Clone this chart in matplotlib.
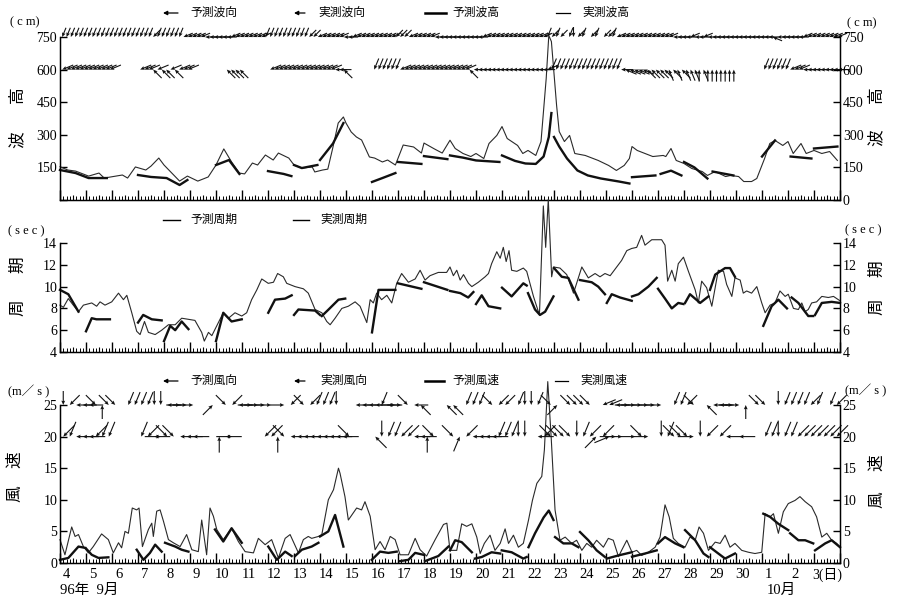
import numpy as np
import matplotlib
matplotlib.use('Agg')
import matplotlib.pyplot as plt
from matplotlib.ticker import MultipleLocator

plt.rcParams['font.family'] = ['Liberation Serif', 'Noto Sans CJK JP']

# time axis: days since 1996-09-04 00h
day_labels = [str(d) for d in range(4, 31)] + ['1', '2', '3(日)']

# ---- wave height (cm) ----
wave_obs = [(0.0,153),(0.3,138),(0.6,133),(1.1,110),(1.5,124),(1.7,101),(2.4,115),(2.6,101),(2.9,152),
            (3.3,138),(3.5,156),(3.8,193),(4.0,161),(4.6,87),(4.9,110),(5.3,87),(5.7,106),(6.0,161),
            (6.3,235),(6.6,175),(6.9,124),(7.1,120),(7.4,170),(7.6,161),(7.9,207),(8.2,184),(8.4,216),
            (8.8,193),(9.0,161),(9.3,147),(9.7,152),(9.8,129),(10.1,138),(10.3,142),(10.5,244),(10.7,354),
            (10.9,382),(11.0,354),(11.2,313),(11.4,290),(11.6,276),(11.9,198),(12.1,193),(12.4,175),
            (12.6,184),(12.9,161),(13.2,253),(13.6,244),(13.9,216),(14.0,262),(14.4,235),(14.7,216),
            (15.0,275),(15.2,237),(15.5,214),(15.8,200),(16.0,214),(16.3,191),(16.5,260),(16.8,297),
            (17.0,338),(17.2,283),(17.6,251),(17.8,214),(18.0,228),(18.3,205),(18.5,269),(18.7,559),
            (18.8,757),(18.9,729),(19.1,435),(19.2,315),(19.4,269),(19.6,297),(19.8,214),(20.2,205),
            (20.7,182),(21.1,159),(21.4,136),(21.7,159),(21.9,191),(22.0,246),(22.2,228),(22.5,214),
            (22.8,200),(23.2,205),(23.3,200),(23.5,237),(23.7,182),(24.0,168),(24.3,145),(24.7,131),
            (24.9,113),(25.2,131),(25.6,108),(25.8,113),(26.1,108),(26.3,85),(26.6,85),(26.8,99),
            (27.1,191),(27.3,260),(27.5,274),(27.8,251),(28.0,269),(28.2,214),(28.5,260),(28.7,214),
            (29.0,228),(29.3,214),(29.6,223),(29.9,182)]
wave_pred = [
    [(0.0,138),(0.6,124),(1.1,101),(1.8,101)],
    [(3.0,115),(3.5,106),(4.1,101),(4.6,69),(4.9,92)],
    [(6.0,161),(6.5,184),(6.9,120)],
    [(8.0,133),(8.6,120),(8.9,110)],
    [(9.0,161),(9.3,147),(9.9,161)],
    [(10.0,184),(10.5,260),(10.9,354)],
    [(12.0,83),(12.4,101),(12.9,124)],
    [(13.0,175),(13.9,166)],
    [(14.0,202),(14.9,188)],
    [(15.0,205),(15.5,195),(16.0,182),(16.9,175)],
    [(17.0,205),(17.5,180),(17.9,168),(18.3,166),(18.6,200),(18.8,290),(18.9,400)],
    [(19.0,290),(19.2,246),(19.5,191),(19.9,136),(20.3,113),(20.8,99),(21.5,85),(21.9,76)],
    [(22.0,105),(22.9,113)],
    [(23.1,120),(23.5,135),(23.9,113)],
    [(24.0,175),(24.4,150),(24.9,99)],
    [(25.1,131),(25.9,113)],
    [(27.0,200),(27.5,274)],
    [(28.1,200),(28.9,191)],
    [(29.0,237),(29.9,246)],
]

# ---- wave period (sec) ----
per_obs = [(0.0,8.3),(0.13,8.1),(0.32,8.9),(0.51,8.3),(0.71,7.7),(0.9,8.3),(1.22,8.5),(1.41,8.2),(1.54,8.6),
           (1.73,8.3),(1.99,8.6),(2.25,9.4),(2.44,8.8),(2.57,9.2),(2.76,7.6),(2.95,5.9),(3.08,5.6),(3.25,6.8),
           (3.4,5.8),(3.66,5.6),(3.91,6.0),(4.17,6.5),(4.43,6.5),(4.68,7.1),(4.94,7.0),(5.19,6.9),(5.45,5.8),
           (5.55,5.0),(5.71,5.8),(5.84,5.5),(6.09,6.7),(6.28,7.6),(6.48,7.1),(6.73,7.6),(6.99,7.3),(7.18,7.6),
           (7.37,8.8),(7.57,9.7),(7.76,10.7),(8.01,10.3),(8.21,10.4),(8.37,11.2),(8.59,10.9),(8.72,10.3),
           (9.04,10.0),(9.36,9.8),(9.55,9.4),(9.81,7.9),(10.07,7.6),(10.26,6.8),(10.39,6.5),(10.58,7.1),
           (10.84,8.0),(11.09,8.2),(11.35,8.6),(11.54,8.2),(11.8,6.7),(11.93,8.8),(12.05,8.5),(12.18,9.4),
           (12.37,8.8),(12.57,9.2),(12.76,8.5),(12.95,10.3),(13.14,11.2),(13.4,10.4),(13.66,10.7),(13.85,11.5),
           (14.04,10.6),(14.23,11.0),(14.55,11.3),(14.87,11.3),(15.0,11.8),(15.13,11.0),(15.26,11.5),
           (15.39,10.6),(15.52,11.1),(15.71,10.3),(15.84,10.0),(16.09,10.4),(16.35,10.9),(16.48,11.2),
           (16.6,12.1),(16.8,13.2),(16.93,12.6),(17.05,13.6),(17.16,12.3),(17.27,13.3),(17.37,11.5),
           (17.57,11.4),(17.82,11.7),(17.95,11.4),(18.21,9.1),(18.44,7.4),(18.59,17.4),(18.68,13.6),
           (18.78,18.0),(18.91,10.9),(18.98,11.8),(19.23,11.7),(19.49,11.1),(19.75,9.4),(20.07,11.8),
           (20.32,10.8),(20.58,11.2),(20.77,10.9),(20.96,11.2),(21.16,11.0),(21.41,11.8),(21.6,12.4),
           (21.8,13.3),(21.99,13.5),(22.18,13.6),(22.37,14.7),(22.5,13.8),(22.76,14.3),(23.14,14.3),
           (23.27,13.8),(23.37,10.5),(23.53,11.5),(23.66,10.5),(23.78,12.1),(23.98,12.7),(24.17,11.4),
           (24.43,9.7),(24.55,8.5),(24.68,10.5),(24.87,9.9),(25.07,8.2),(25.32,11.5),(25.52,11.4),
           (25.64,10.2),(25.84,9.1),(25.96,10.8),(26.16,10.6),(26.28,9.4),(26.41,9.6),(26.6,9.4),
           (26.8,10.0),(26.99,8.5),(27.12,7.6),(27.31,8.3),(27.5,8.5),(27.69,9.6),(27.89,9.1),(28.01,9.3),
           (28.21,8.0),(28.4,7.9),(28.53,8.5),(28.66,7.7),(28.78,7.9),(28.91,8.5),(29.1,8.6),(29.3,9.1),
           (29.55,9.0),(29.75,9.1),(30.0,8.7)]
per_pred = [
    [(0.0,9.7),(0.32,9.3),(0.71,7.7)],
    [(1.0,5.9),(1.22,7.1),(1.4,7.0),(1.92,7.0)],
    [(3.0,6.7),(3.2,7.4),(3.53,7.0),(3.91,6.9)],
    [(4.0,5.0),(4.24,6.4),(4.43,6.0),(4.68,6.8),(4.94,6.1)],
    [(6.0,5.0),(6.28,7.6),(6.6,6.8),(6.99,7.0)],
    [(8.01,7.6),(8.27,8.8),(8.66,8.9),(8.91,9.2)],
    [(9.0,7.4),(9.17,7.9),(9.81,7.8),(10.0,7.4)],
    [(10.07,7.3),(10.33,7.9),(10.71,8.8),(10.97,8.9)],
    [(12.0,5.8),(12.25,9.7),(12.9,9.7)],
    [(13.0,10.3),(13.9,9.8)],
    [(14.0,10.4),(14.9,9.7)],
    [(15.0,9.6),(15.4,9.4),(15.7,9.0),(15.9,9.5)],
    [(16.0,8.4),(16.22,9.2),(16.48,8.2),(16.93,8.0)],
    [(17.0,9.9),(17.37,9.1),(17.82,10.3),(17.95,10.1)],
    [(18.0,9.4),(18.27,7.9),(18.46,7.4),(18.66,7.7),(18.98,9.1)],
    [(19.0,11.7),(19.3,10.9),(19.55,10.8),(19.94,8.8)],
    [(20.0,10.6),(20.45,10.4),(20.7,10.0),(20.96,9.3)],
    [(21.03,8.5),(21.22,9.3),(21.54,9.0),(21.99,8.7)],
    [(22.0,9.1),(22.25,9.3),(22.63,10.0),(22.95,10.8)],
    [(23.0,9.8),(23.27,8.9),(23.53,8.0),(23.78,8.5),(23.98,8.4)],
    [(24.04,8.5),(24.23,9.3),(24.62,8.5),(24.94,9.1)],
    [(25.0,9.7),(25.2,11.1),(25.58,11.7),(25.77,11.7),(25.96,10.9)],
    [(27.05,6.4),(27.37,8.2),(27.63,8.8),(27.96,8.0)],
    [(28.14,9.0),(28.4,8.5),(28.78,7.3),(28.97,7.3)],
    [(29.04,7.4),(29.3,8.5),(29.68,8.6),(30.0,8.5)],
]

# ---- wind speed (m/s) ----
wind_obs = [(0.0,3.7),(0.19,1.3),(0.45,5.7),(0.58,4.2),(0.71,4.5),(0.9,2.6),(1.09,1.6),(1.28,2.6),(1.6,4.6),
            (1.86,3.7),(2.05,1.6),(2.25,3.2),(2.37,2.4),(2.5,5.0),(2.63,4.7),(2.78,8.7),(2.95,8.4),(3.04,8.7),
            (3.17,2.6),(3.4,5.3),(3.53,6.3),(3.59,4.2),(3.72,8.2),(3.85,8.4),(3.98,6.6),(4.17,3.7),(4.36,3.2),
            (4.62,2.6),(4.87,4.5),(5.07,2.1),(5.32,1.8),(5.45,6.8),(5.64,1.3),(5.77,8.7),(5.9,7.4),(6.03,5.3),
            (6.28,3.7),(6.6,5.5),(6.86,3.4),(7.12,1.8),(7.44,1.6),(7.63,3.9),(7.89,2.9),(8.14,3.7),(8.4,0.8),
            (8.66,3.9),(8.85,4.5),(9.17,1.6),(9.36,3.7),(9.55,4.2),(9.68,3.9),(9.94,4.2),(10.07,4.5),
            (10.32,10.0),(10.52,11.6),(10.71,15.0),(10.77,14.2),(10.96,10.5),(11.09,6.8),(11.41,8.7),
            (11.6,8.4),(11.73,9.7),(11.93,7.4),(12.12,2.1),(12.31,3.4),(12.5,2.1),(12.7,4.2),(12.89,3.7),
            (13.08,1.3),(13.4,1.3),(13.66,3.9),(13.85,2.1),(14.1,1.1),(14.43,3.7),(14.75,6.1),(14.88,6.3),
            (15.0,2.0),(15.26,2.0),(15.45,6.2),(15.64,5.8),(15.84,6.2),(16.03,4.1),(16.16,1.5),(16.32,3.1),
            (16.54,4.4),(16.73,2.0),(16.93,3.1),(17.12,5.4),(17.25,3.1),(17.44,4.4),(17.63,2.5),(17.82,3.1),
            (18.02,6.8),(18.17,9.9),(18.34,12.6),(18.53,13.7),(18.63,17.9),(18.76,28.7),(18.89,20.0),
            (19.04,8.4),(19.23,3.6),(19.43,4.1),(19.68,3.1),(19.87,3.6),(20.07,2.0),(20.26,3.1),(20.45,2.5),
            (20.64,3.6),(20.9,2.5),(21.09,3.9),(21.28,3.6),(21.48,1.0),(21.6,2.0),(21.8,3.6),(22.0,1.7),
            (22.18,2.0),(22.37,1.2),(22.63,1.7),(22.89,2.5),(23.08,4.1),(23.27,9.2),(23.43,7.3),(23.59,3.9),
            (23.78,3.1),(24.04,2.5),(24.23,4.1),(24.43,3.6),(24.58,5.7),(24.75,4.7),(24.94,2.0),(25.2,3.3),
            (25.39,3.1),(25.58,4.4),(25.77,2.5),(25.96,3.1),(26.22,2.0),(26.48,1.7),(26.73,1.5),(26.99,1.7),
            (27.12,7.8),(27.31,7.3),(27.44,7.8),(27.63,4.7),(27.82,8.1),(28.01,9.4),(28.27,9.9),(28.46,10.5),
            (28.66,9.7),(28.91,8.9),(29.1,7.3),(29.3,4.1),(29.49,4.7),(29.68,3.6),(29.87,3.1),(30.0,2.5)]
wind_pred = [
    [(0.0,0.5),(0.32,0.8),(0.71,2.6),(0.96,2.4)],
    [(1.0,2.3),(1.22,1.3),(1.48,0.8),(1.86,0.9)],
    [(2.95,2.1),(3.21,0.5),(3.46,1.6),(3.66,2.9),(3.91,1.8)],
    [(4.04,3.2),(4.43,2.6),(4.68,2.1),(4.94,1.8)],
    [(5.96,5.3),(6.28,3.4),(6.6,5.5),(6.99,3.2)],
    [(8.01,2.6),(8.34,0.5),(8.66,1.8),(8.91,1.1)],
    [(9.04,1.1),(9.3,2.1),(9.68,2.6),(9.94,3.2)],
    [(10.0,4.2),(10.32,5.0),(10.58,7.6),(10.9,2.6)],
    [(11.99,0.5),(12.31,1.8),(12.63,1.6),(12.95,1.8)],
    [(13.08,0.3),(13.4,0.5),(13.66,1.6),(13.98,1.3)],
    [(14.04,0.3),(14.55,1.1),(14.94,2.6)],
    [(15.0,2.0),(15.2,3.6),(15.45,3.3),(15.84,1.7)],
    [(15.96,0.7),(16.22,0.95),(16.6,1.7),(16.93,1.5)],
    [(16.99,2.0),(17.37,1.7),(17.82,0.7),(17.95,0.95)],
    [(18.02,2.5),(18.27,4.7),(18.6,7.2),(18.8,8.3),(18.98,6.8)],
    [(19.04,4.1),(19.36,3.1),(19.68,3.1),(19.94,2.5)],
    [(20.0,4.9),(20.32,3.6),(20.64,2.0),(20.96,0.95)],
    [(21.03,0.7),(21.48,1.2),(21.99,1.7)],
    [(22.0,1.0),(22.5,1.5),(22.95,2.0)],
    [(23.0,3.1),(23.27,4.1),(23.66,3.1),(23.98,2.5)],
    [(24.04,5.2),(24.43,3.6),(24.75,1.5),(24.94,0.95)],
    [(25.0,2.5),(25.32,1.5),(25.58,0.7),(25.96,1.5)],
    [(27.05,7.8),(27.31,7.3),(27.63,6.2),(28.01,5.2)],
    [(28.08,4.7),(28.4,3.6),(28.66,3.6),(28.97,3.1)],
    [(29.04,2.0),(29.43,3.1),(29.68,3.6),(30.0,2.5)],
]

# ---- directions (where it comes from), one string per day, '-' = none ----
wave_dir_obs = [
    "NNE NNE NNE NNE NNE NNE", "NNE NNE NNE NNE NNE NNE", "NNE NNE NNE NNE NNE NNE",
    "NNE NNE NNE NE NNE NNE", "NNE NNE NNE NNE ENE ENE", "ENE ENE ENE E E E",
    "E E E ENE ENE ENE", "ENE ENE ENE ENE ENE NNE", "NNE NNE NNE NNE NNE NNE",
    "NNE NNE NNE NE NE ENE", "ENE ENE ENE ENE ENE E", "E ENE ENE ENE ENE ENE",
    "ENE ENE ENE ENE ENE NE", "NE NE ENE ENE ENE ENE", "ENE ENE E E E E",
    "E E E E E E", "E ENE ENE ENE ENE ENE", "ENE ENE ENE ENE ENE ENE",
    "ENE ENE ENE ENE NNE NE", "NNE NE - NNE N NE", "NNE - NE NNE - NE",
    "NE NNE ENE ENE ENE ENE", "ENE ENE ENE ENE ENE ENE", "ENE ENE ENE E E E",
    "E ENE E E ENE E", "E E E E E E", "E E E E E E",
    "E E ESE E E E", "E E E ENE ENE ENE", "ENE ENE ENE ENE ENE ENE",
]
wave_dir_pred = [
    "ENE ENE ENE ENE ENE ENE", "ENE ENE ENE ENE ENE ENE", "- - - - - -",
    "ENE ENE ENE SE ENE SE", "SE ENE SE ENE ENE ENE", "- - - - - -",
    "- - SE SE SE SE", "- - - - - -", "ENE ENE ENE ENE ENE ENE",
    "ENE ENE ENE ENE ENE ENE", "ENE ENE ENE E E SE", "- - - - - -",
    "NNE NNE NNE NNE NNE NNE", "ENE ENE ENE ENE ENE ENE", "ENE ENE ENE ENE ENE ENE",
    "ENE ENE ENE ENE SE E", "E E E E E E", "E E E E E E",
    "E E E E ENE NNE", "NNE NNE NNE NNE NNE NNE", "NNE NNE NNE NNE NNE NNE",
    "NNE NNE NNE E ESE ESE", "ESE ESE ESE SE SE SE", "SE SE SSE SE SSE SE",
    "SSE SSE SSE S SSE S", "S S S S S S", "- - - - - -",
    "NNE NNE NNE NNE NNE NNE", "ENE ENE ENE E E E", "E E E E E E",
]
wind_dir_obs = [
    "N NE E E", "E NW S NW", "NW - NNE NNE", "NNE NNE N N", "E - W W",
    "W - - SW", "- NW NE E", "- W W W", "W - W NE", "- NW NE NNE",
    "NNE NNE N -", "- E E E", "E NNE E W", "W NW E SE", "- - - SE",
    "SE - NNE NNE", "NNE - NW NE", "NE - NNE N", "N NNE - NW", "SW - NW NW",
    "NW NW - ENE", "ENE E - W", "W W W W", "W - NNE NNE", "NE NW - SE",
    "E E - W", "W S - NW", "NW - N NNE", "NNE NNE NNE NE", "NNE - NNE NE",
]
wind_dir_pred = [
    "NE NNE E E", "E NE NNE NNE", "- - - -", "NNE NE E W", "NW NW E E",
    "E - - -", "S E W -", "- - - NE", "NE S NW E", "E E E E",
    "E E E E", "NW - - -", "SE N NNE NNE", "NE NE E E", "S NW - -",
    "NW SSW NE E", "E E E NNE", "NNE NNE N N", "- E NE NW", "NW NW NW N",
    "NNE NE SW NE", "WSW W W -", "W NW W -", "N NNE NW NW", "NW W N NE",
    "- NE E -", "E - - -", "NNE NNE N NNE", "NNE NE NE NE", "NE NE NE NE",
]

COMPASS = {'N': 0, 'NNE': 22.5, 'NE': 45, 'ENE': 67.5, 'E': 90, 'ESE': 112.5, 'SE': 135,
           'SSE': 157.5, 'S': 180, 'SSW': 202.5, 'SW': 225, 'WSW': 247.5, 'W': 270,
           'WNW': 292.5, 'NW': 315, 'NNW': 337.5}

THIN = dict(color='#2a2a2a', lw=0.8, clip_on=False, zorder=3)
THICK = dict(color='#111111', lw=1.7, clip_on=False, zorder=4)

W, H = 900, 602
fig = plt.figure(figsize=(9, 6.02), dpi=100)


def px_axes(left, top, right, bottom):
    return fig.add_axes([left / W, 1 - bottom / H, (right - left) / W, (bottom - top) / H])


def draw_dirs(ax, rows, yval, length):
    xs, us, vs = [], [], []
    for day, s in enumerate(rows):
        codes = s.split()
        for i, c in enumerate(codes):
            if c == '-':
                continue
            a = np.radians(270 - COMPASS[c])
            xs.append(day + (i + 0.5) / len(codes))
            us.append(np.cos(a))
            vs.append(np.sin(a))
    q = ax.quiver(xs, [yval] * len(xs), us, vs, angles='uv', scale_units='inches',
                  scale=1 / length, units='dots', width=1.1, headwidth=3.5, headlength=4,
                  headaxislength=3.5, pivot='tip', color='#111111', zorder=5)
    q.set_clip_on(False)


def style(ax, ylim, yticks, left_ticks, height_px):
    ax.set_xlim(0, 30)
    ax.set_ylim(*ylim)
    ax.spines['top'].set_visible(False)
    for s in ax.spines.values():
        s.set_linewidth(1.0)
    ax.xaxis.set_major_locator(MultipleLocator(1))
    ax.xaxis.set_minor_locator(MultipleLocator(0.125))
    ax.tick_params(axis='x', which='major', direction='in', length=7, width=1, labelbottom=False)
    ax.tick_params(axis='x', which='minor', direction='in', length=3, width=0.7)
    ax.vlines(np.arange(0.5, 30, 1), 0, 5 / height_px, transform=ax.get_xaxis_transform(),
              color='k', lw=0.8)
    ax.set_yticks(yticks)
    ax.set_yticklabels([str(v) if v in left_ticks else '' for v in yticks])
    ax.tick_params(axis='y', direction='in', length=5, width=1, labelsize=10, pad=2)
    ax2 = ax.twinx()
    ax2.set_ylim(*ylim)
    ax2.spines['top'].set_visible(False)
    ax2.set_yticks(yticks)
    ax2.set_yticklabels([str(v) for v in yticks])
    ax2.tick_params(axis='y', direction='in', length=5, width=1, labelsize=10, pad=2)
    return ax2


def plot_series(ax, obs, pred):
    t, v = zip(*obs)
    ax.plot(t, v, **THIN)
    for seg in pred:
        t, v = zip(*seg)
        ax.plot(t, v, **THICK)


# wave height panel
ax1 = px_axes(60, 37, 840, 200)
style(ax1, (0, 750), [0, 150, 300, 450, 600, 750], [150, 300, 450, 600, 750], 163)
plot_series(ax1, wave_obs, wave_pred)
draw_dirs(ax1, wave_dir_obs, 750, 0.10)
draw_dirs(ax1, wave_dir_pred, 600, 0.12)

# wave period panel
ax2 = px_axes(60, 243, 840, 352)
style(ax2, (4, 14), [4, 6, 8, 10, 12, 14], [4, 6, 8, 10, 12, 14], 109)
plot_series(ax2, per_obs, per_pred)

# wind panel
ax3 = px_axes(60, 405, 840, 563)
style(ax3, (0, 25), [0, 5, 10, 15, 20, 25], [0, 5, 10, 15, 20, 25], 158)
plot_series(ax3, wind_obs, wind_pred)
draw_dirs(ax3, wind_dir_obs, 25, 0.14)
draw_dirs(ax3, wind_dir_pred, 20, 0.16)

trans = ax3.get_xaxis_transform()
for i, lab in enumerate(day_labels):
    if lab == '3(日)':
        ax3.text(i - 0.05, -0.075, lab, transform=trans, ha='left', va='center', fontsize=10)
    else:
        ax3.text(i + 0.25, -0.07, lab, transform=trans, ha='center', va='center', fontsize=10.5)

# overlay in pixel coordinates for legends and axis titles
ov = fig.add_axes([0, 0, 1, 1], zorder=10)
ov.set_xlim(0, W)
ov.set_ylim(H, 0)
ov.axis('off')
ov.patch.set_alpha(0)

txt = dict(fontsize=8.5, va='center', ha='left')


def leg_arrow(x0, x1, y):
    ov.annotate('', xy=(x0, y), xytext=(x1, y),
                arrowprops=dict(arrowstyle='-|>', lw=0.9, color='k', mutation_scale=6,
                                shrinkA=0, shrinkB=0))


def leg_line(x0, x1, y, lw):
    ov.plot([x0, x1], [y, y], color='k', lw=lw)


# legend row 1
leg_arrow(163, 178, 13); ov.text(190, 13, '予測波向', **txt)
leg_arrow(294, 305, 13); ov.text(318, 13, '実測波向', **txt)
leg_line(425, 446, 13, 1.8); ov.text(452, 13, '予測波高', **txt)
leg_line(556, 570, 13, 0.9); ov.text(582, 13, '実測波高', **txt)
# legend row 2
leg_line(163, 180, 220, 1.0); ov.text(190, 220, '予測周期', **txt)
leg_line(293, 309, 220, 1.0); ov.text(320, 220, '実測周期', **txt)
# legend row 3
leg_arrow(163, 178, 381); ov.text(190, 381, '予測風向', **txt)
leg_arrow(294, 305, 381); ov.text(320, 381, '実測風向', **txt)
leg_line(425, 444, 381, 1.8); ov.text(452, 381, '予測風速', **txt)
leg_line(555, 568, 381, 0.9); ov.text(580, 381, '実測風速', **txt)

# units
unit = dict(fontsize=9, va='center', ha='left')
ov.text(10, 22, '( c m)', **unit)
ov.text(847, 23, '( c m)', **unit)
ov.text(8, 231, '( s e c )', **unit)
ov.text(845, 230, '( s e c )', **unit)
ov.text(8, 392, '(m／ s )', **unit)
ov.text(845, 391, '(m／ s )', **unit)

# vertical axis titles
kan = dict(fontsize=12, rotation=90, ha='center', va='center')
for x, y, ch in [(18, 95, '高'), (18, 140, '波'), (877, 95, '高'), (877, 138, '波'),
                 (18, 265, '期'), (18, 308, '周'), (877, 269, '期'), (877, 307, '周'),
                 (15, 460, '速'), (15, 494, '風'), (877, 463, '速'), (877, 500, '風')]:
    ov.text(x, y, ch, **kan)

ov.text(60, 590, '96年  9月', fontsize=10.5, ha='left', va='center')
ov.text(767, 590, '10月', fontsize=10.5, ha='left', va='center')

fig.savefig('out.png', dpi=100)
